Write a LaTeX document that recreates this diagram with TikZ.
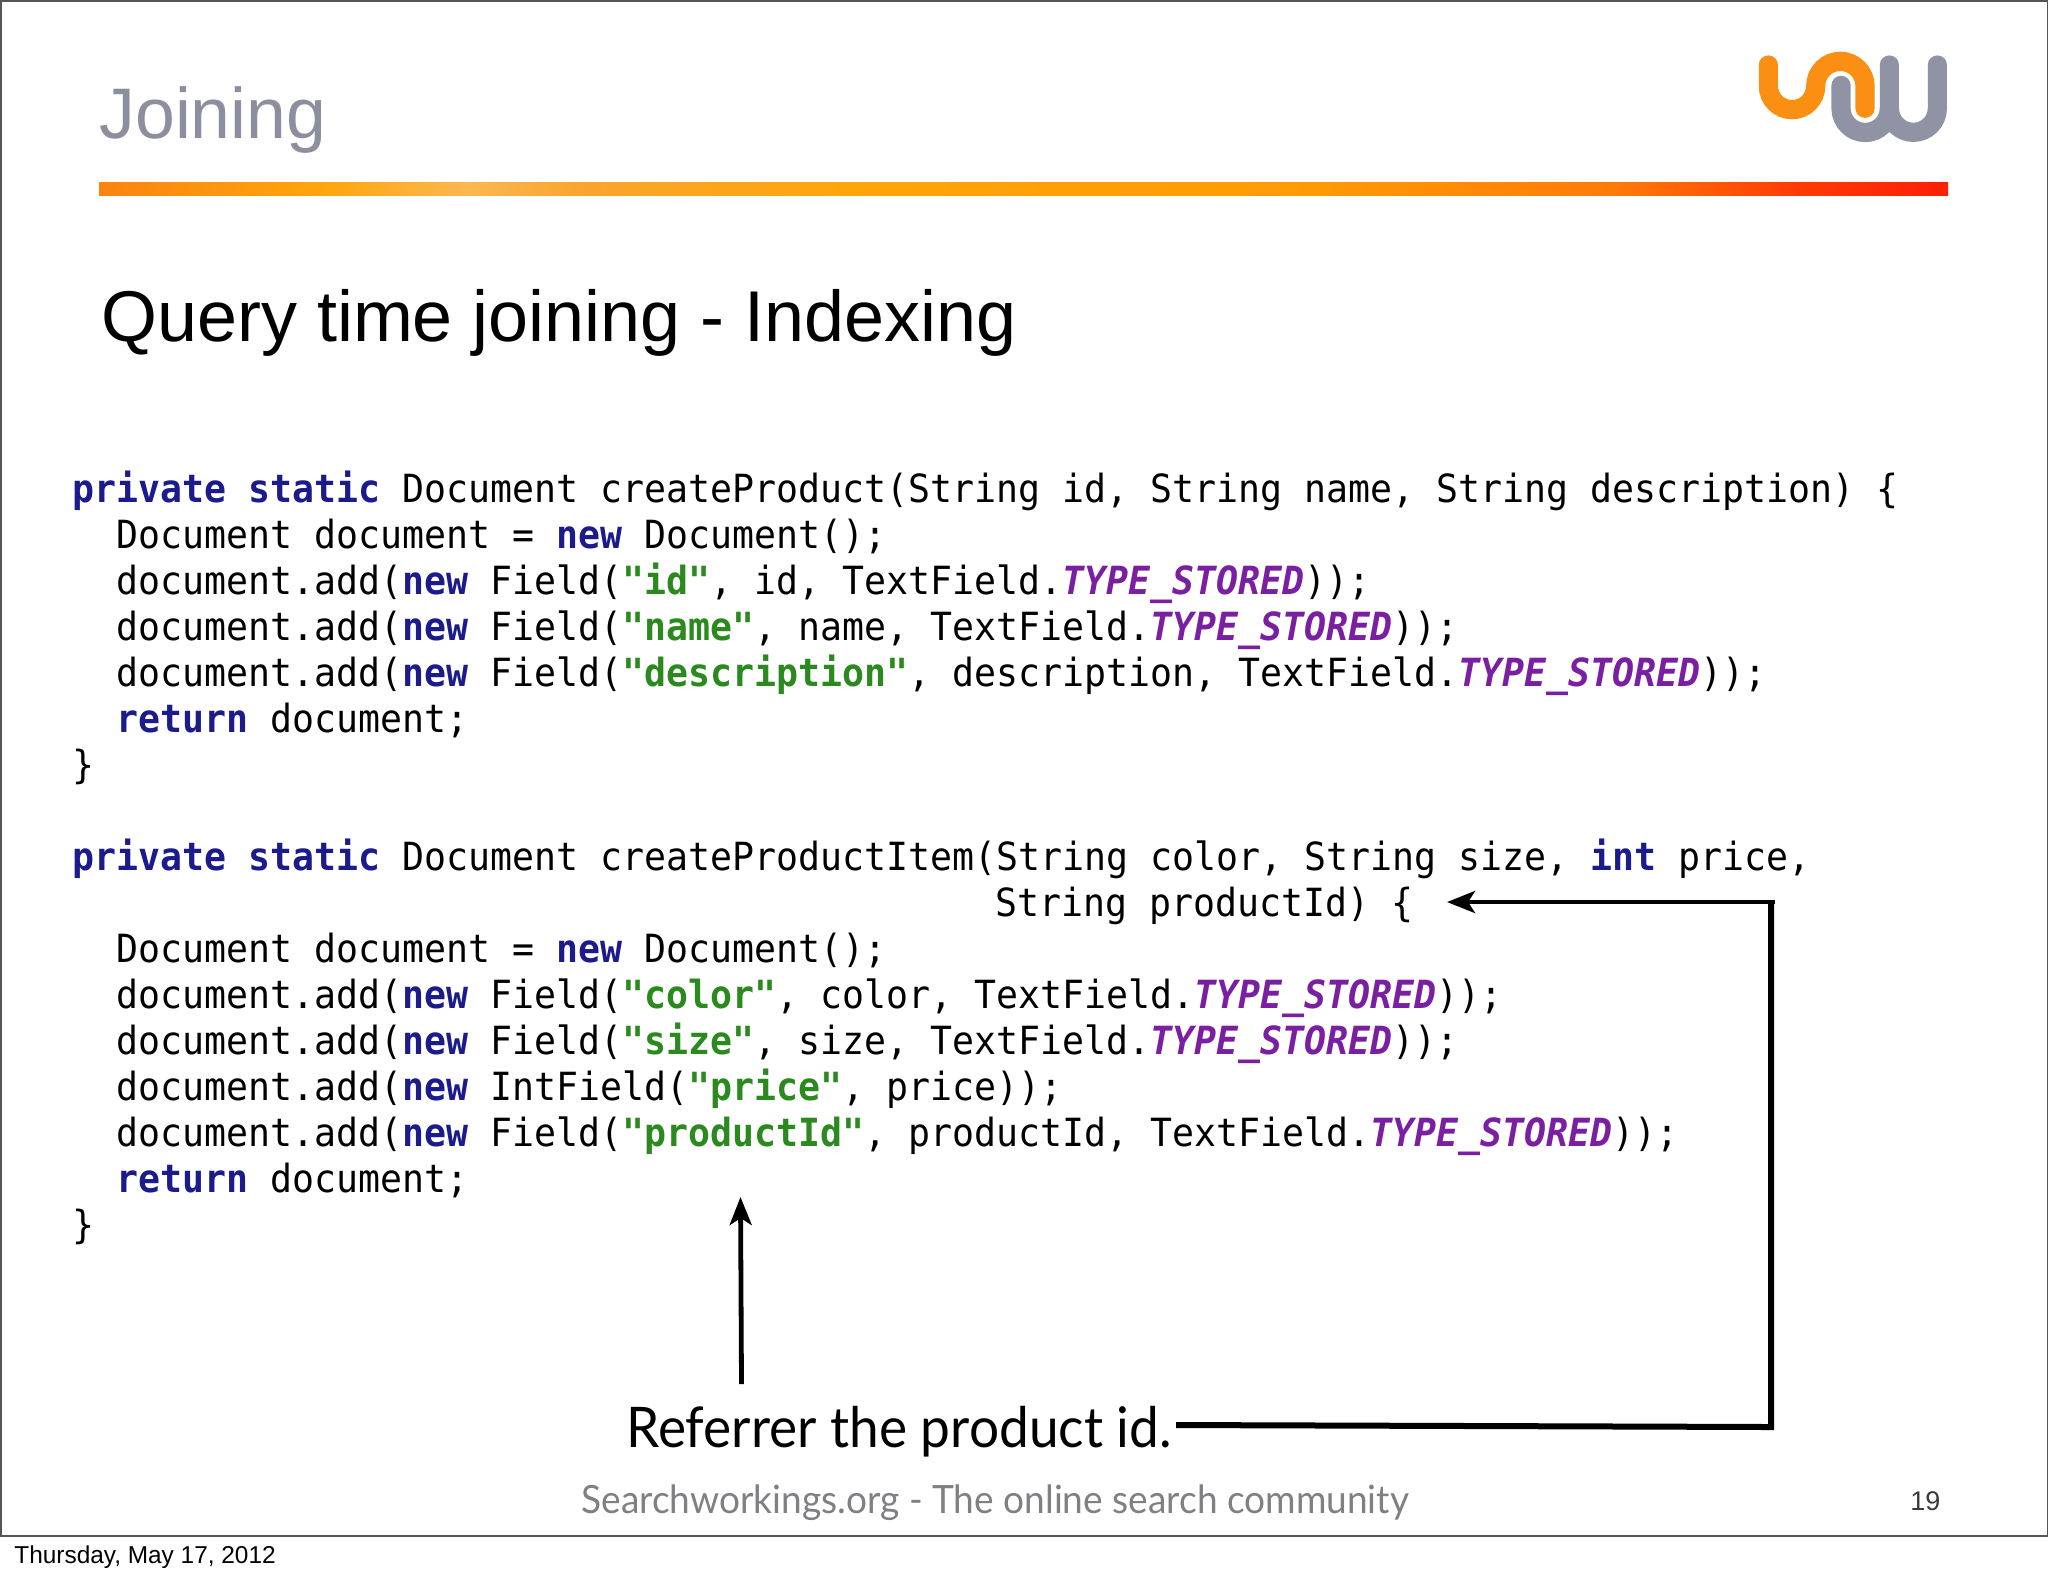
\documentclass[tikz,border=0pt]{standalone}
\usepackage{fontspec}
\usetikzlibrary{arrows.meta}
\setmainfont{Liberation Sans}
\newfontfamily\codefont[FakeStretch=0.9415]{DejaVu Sans Mono}
\newfontfamily\gillfont[FakeStretch=0.95]{Lato}
\definecolor{slidegray}{HTML}{8D8F9E}
\definecolor{logoorange}{HTML}{FB8F14}
\definecolor{logogray}{HTML}{8F93A3}
\definecolor{kwcol}{HTML}{1B1B8C}
\definecolor{strcol}{HTML}{2A8A1E}
\definecolor{tycol}{HTML}{7A1FA2}
\definecolor{footgray}{HTML}{808084}
\definecolor{framegray}{HTML}{555558}
\definecolor{barA}{HTML}{FA8410}
\definecolor{barB}{HTML}{FFA50C}
\definecolor{barC}{HTML}{FBB84F}
\definecolor{barD}{HTML}{F9A52E}
\definecolor{barE}{HTML}{FF9A05}
\definecolor{barF}{HTML}{FF7A08}
\definecolor{barG}{HTML}{FF3A05}
\definecolor{barH}{HTML}{FA2005}
\pgfdeclarehorizontalshading{barshade}{100bp}{
 color(0bp)=(barA); color(25bp)=(barA);
 color(31bp)=(barB); color(35bp)=(barC); color(38bp)=(barD); color(45bp)=(barB);
 color(58bp)=(barE); color(66bp)=(barF); color(71bp)=(barG); color(75bp)=(barH); color(100bp)=(barH)}
\newcommand{\kw}[1]{{\bfseries\color{kwcol}#1}}
\newcommand{\strl}[1]{{\bfseries\color{strcol}#1}}
\newcommand{\ty}{{\bfseries\itshape\color{tycol}TYPE\_STORED}}
\tikzset{
 codeline/.style={anchor=base west,inner sep=0pt,font=\fontsize{19.4}{23}\codefont\frenchspacing,text=black},
 plainlabel/.style={anchor=base west,inner sep=0pt},
 arrowline/.style={draw=black,line width=2.4pt,-{Stealth[length=14pt,width=11pt,inset=3.5pt]}},
 heavyline/.style={draw=black,line width=3pt,line join=miter},
 logostroke/.style={line width=9.6pt,line cap=round}
}
\begin{document}
\begin{tikzpicture}[x=0.5pt,y=-0.5pt]
\useasboundingbox (0,0) rectangle (2048,1576);
\fill[white] (0,0) rectangle (2048,1576);
% frame
\draw[framegray,line width=1pt] (0.5,0.5) rectangle (2047.5,1536);
% title
\node[plainlabel,text=slidegray,font=\fontsize{35.8}{42}\selectfont] (title) at (99,138) {Joining};
\node[plainlabel,text=black,font=\fontsize{35.95}{42}\selectfont] (sub) at (101,341) {Query time joining - Indexing};
% bar
\shade[shading=barshade] (99,182) rectangle (1948,195);
% logo
\begin{scope}[shift={(1650,20)},x=0.16667pt,y=-0.16667pt]
 \draw[logogray,logostroke] (573,196) -- (573,265) arc[start angle=180,end angle=0,radius=72.5] -- (718,135);
 \draw[logogray,logostroke] (718,265) arc[start angle=180,end angle=0,radius=72] -- (862,135);
 \draw[white,line width=13pt,line cap=round] (497,198) arc[start angle=180,end angle=360,radius=74] -- (645,265);
 \draw[logoorange,logostroke] (355,135) -- (355,198) arc[start angle=180,end angle=0,radius=71] arc[start angle=180,end angle=360,radius=74] -- (645,265);
\end{scope}
% code
\node[codeline] (l0) at (72.5,502.2) {\kw{private static} Document createProduct(String id, String name, String description) \{};
\node[codeline] (l1) at (116.4,548.2) {Document document = \kw{new} Document();};
\node[codeline] (l2) at (116.4,594.3) {document.add(\kw{new} Field(\strl{"id"}, id, TextField.\ty));};
\node[codeline] (l3) at (116.4,640.3) {document.add(\kw{new} Field(\strl{"name"}, name, TextField.\ty));};
\node[codeline] (l4) at (116.4,686.4) {document.add(\kw{new} Field(\strl{"description"}, description, TextField.\ty));};
\node[codeline] (l5) at (116.4,732.4) {\kw{return} document;};
\node[codeline] (l6) at (72.5,778.5) {\}};
\node[codeline] (l8) at (72.5,870.5) {\kw{private static} Document createProductItem(String color, String size, \kw{int} price,};
\node[codeline] (l9) at (995.5,916.6) {String productId) \{};
\node[codeline] (l10) at (116.4,962.6) {Document document = \kw{new} Document();};
\node[codeline] (l11) at (116.4,1008.7) {document.add(\kw{new} Field(\strl{"color"}, color, TextField.\ty));};
\node[codeline] (l12) at (116.4,1054.7) {document.add(\kw{new} Field(\strl{"size"}, size, TextField.\ty));};
\node[codeline] (l13) at (116.4,1100.8) {document.add(\kw{new} IntField(\strl{"price"}, price));};
\node[codeline] (l14) at (116.4,1146.8) {document.add(\kw{new} Field(\strl{"productId"}, productId, TextField.\ty));};
\node[codeline] (l15) at (116.4,1192.9) {\kw{return} document;};
\node[codeline] (l16) at (72.5,1238.9) {\}};
% labels
\node[plainlabel,text=black,font=\fontsize{28}{32}\gillfont] (ref) at (626,1447) {Referrer the product id.};
\node[plainlabel,text=footgray,font=\fontsize{19.5}{24}\gillfont] (foot) at (581,1513) {Searchworkings.org - The online search community};
\node[plainlabel,text=framegray!70!black,font=\fontsize{13.5}{16}\selectfont] (page) at (1910,1510) {19};
\node[plainlabel,text=black,font=\fontsize{12.2}{15}\selectfont] (date) at (14,1563) {Thursday, May 17, 2012};
% connectors
\coordinate (upstart) at (741.5,1384);
\coordinate (uptip) at (740.5,1197);
\coordinate (refout) at (1176,1425);
\coordinate (corner) at (1771,1427);
\coordinate (topcorner) at (1771,902);
\coordinate (topstart) at (1775,902);
\coordinate (sidetip) at (1447,902);
\draw[arrowline] (upstart) -- (uptip);
\draw[heavyline] (refout) -- (corner) -- (topcorner);
\draw[arrowline] (topstart) -- (sidetip);
\end{tikzpicture}
\end{document}
